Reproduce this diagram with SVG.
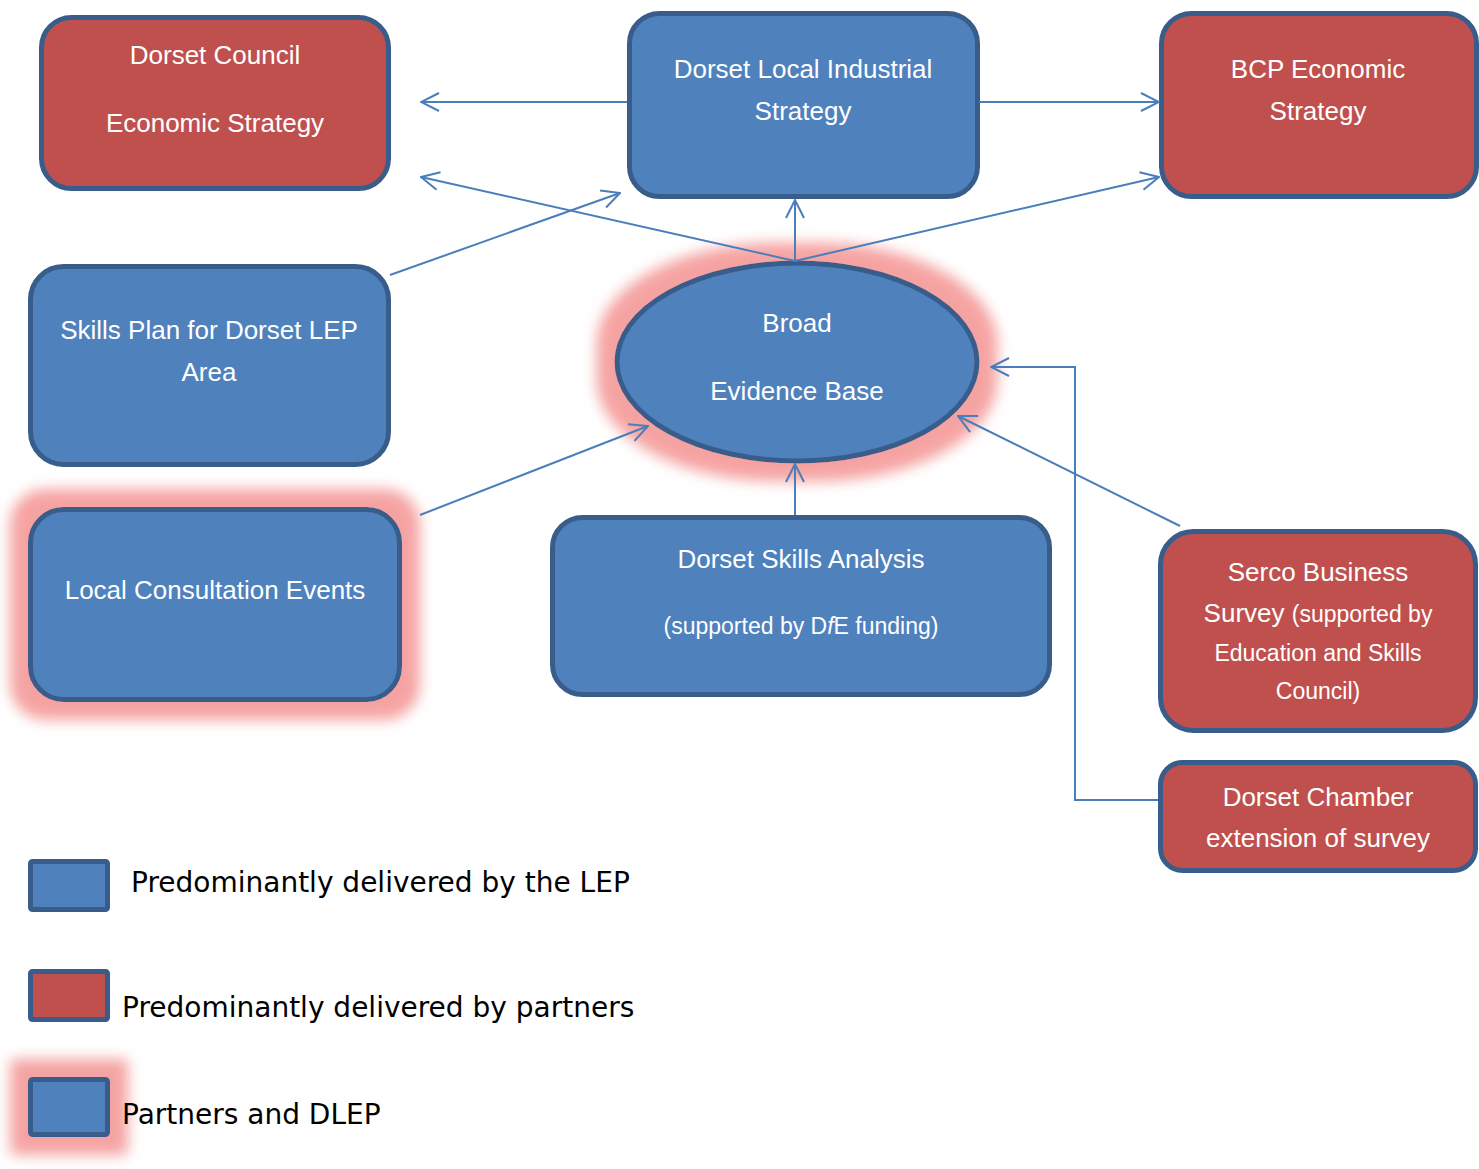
<svg xmlns="http://www.w3.org/2000/svg" width="1479" height="1169" viewBox="0 0 1479 1169">
<style>
.blue{fill:#4F81BD;stroke:#385D8A;stroke-width:5}
.red{fill:#C0504D;stroke:#385D8A;stroke-width:5}
.t{font-family:"Liberation Sans",Arial,sans-serif;fill:#FFFFFF;text-anchor:middle;font-size:26px}
.s{font-size:23px}
.lg{font-family:"DejaVu Sans","Liberation Sans",sans-serif;fill:#000000;font-size:28px}
.c{fill:none;stroke:#4A7EBB;stroke-width:2}
</style>
<defs>
<marker id="ah" viewBox="0 0 20 20" refX="19" refY="10" markerWidth="20" markerHeight="20" markerUnits="userSpaceOnUse" orient="auto">
<path d="M1,1 L19,10 L1,19" fill="none" stroke="#4A7EBB" stroke-width="2"/>
</marker>
<filter id="glow" x="-80%" y="-80%" width="260%" height="260%">
<feMorphology in="SourceAlpha" operator="dilate" radius="18" result="d"/>
<feGaussianBlur in="d" stdDeviation="7" result="b"/>
<feFlood flood-color="#F5A3A2"/>
<feComposite in2="b" operator="in" result="g"/>
<feMerge><feMergeNode in="g"/><feMergeNode in="SourceGraphic"/></feMerge>
</filter>
</defs>
<rect width="1479" height="1169" fill="#FFFFFF"/>

<g id="dorset-council">
<rect class="red" x="41.5" y="17.5" width="347" height="171" rx="30"/>
<text class="t" x="215" y="64">Dorset Council</text>
<text class="t" x="215" y="132">Economic Strategy</text>
</g>

<g id="dorset-local-industrial">
<rect class="blue" x="629.5" y="13.5" width="348" height="183" rx="30"/>
<text class="t" x="803" y="78">Dorset Local Industrial</text>
<text class="t" x="803" y="120">Strategy</text>
</g>

<g id="bcp">
<rect class="red" x="1161.5" y="13.5" width="315" height="183" rx="30"/>
<text class="t" x="1318" y="78">BCP Economic</text>
<text class="t" x="1318" y="120">Strategy</text>
</g>

<g id="evidence-base">
<ellipse class="blue" cx="797" cy="362" rx="180" ry="99" filter="url(#glow)"/>
<text class="t" x="797" y="332">Broad</text>
<text class="t" x="797" y="400">Evidence Base</text>
</g>

<g id="skills-plan">
<rect class="blue" x="30.5" y="266.5" width="358" height="198" rx="33"/>
<text class="t" x="209" y="339">Skills Plan for Dorset LEP</text>
<text class="t" x="209" y="381">Area</text>
</g>

<g id="local-consultation">
<rect class="blue" x="30.5" y="509.5" width="369" height="190" rx="33" filter="url(#glow)"/>
<text class="t" x="215" y="599">Local Consultation Events</text>
</g>

<g id="skills-analysis">
<rect class="blue" x="552.5" y="517.5" width="497" height="177" rx="30"/>
<text class="t" x="801" y="568">Dorset Skills Analysis</text>
<text class="t s" x="801" y="634">(supported by D<tspan font-style="italic">f</tspan>E funding)</text>
</g>

<g id="serco">
<rect class="red" x="1160.5" y="531.5" width="315" height="199" rx="33"/>
<text class="t" x="1318" y="581">Serco Business</text>
<text class="t" x="1318" y="622">Survey <tspan class="s">(supported by</tspan></text>
<text class="t s" x="1318" y="661">Education and Skills</text>
<text class="t s" x="1318" y="699">Council)</text>
</g>

<g id="dorset-chamber">
<rect class="red" x="1160.5" y="762.5" width="315" height="108" rx="22"/>
<text class="t" x="1318" y="806">Dorset Chamber</text>
<text class="t" x="1318" y="847">extension of survey</text>
</g>

<g id="connectors">
<line class="c" x1="627" y1="102" x2="421" y2="102" marker-end="url(#ah)"/>
<line class="c" x1="979" y1="102" x2="1159" y2="102" marker-end="url(#ah)"/>
<line class="c" x1="795" y1="261" x2="421" y2="177" marker-end="url(#ah)"/>
<line class="c" x1="795" y1="261" x2="1159" y2="177" marker-end="url(#ah)"/>
<line class="c" x1="795" y1="261" x2="795" y2="200" marker-end="url(#ah)"/>
<line class="c" x1="390" y1="275" x2="620" y2="193" marker-end="url(#ah)"/>
<line class="c" x1="420" y1="515" x2="648" y2="426" marker-end="url(#ah)"/>
<line class="c" x1="795" y1="515" x2="795" y2="464" marker-end="url(#ah)"/>
<line class="c" x1="1180" y1="526" x2="958" y2="416" marker-end="url(#ah)"/>
<polyline class="c" points="1158,800 1075,800 1075,367 991,367" marker-end="url(#ah)"/>
</g>

<g id="legend">
<rect class="blue" x="30.5" y="861.5" width="77" height="48" rx="2"/>
<text class="lg" x="131" y="892">Predominantly delivered by the LEP</text>
<rect class="red" x="30.5" y="971.5" width="77" height="48" rx="2"/>
<text class="lg" x="122" y="1017">Predominantly delivered by partners</text>
<rect class="blue" x="30.5" y="1079.5" width="77" height="55" rx="2" filter="url(#glow)"/>
<text class="lg" x="122" y="1124">Partners and DLEP</text>
</g>
</svg>
